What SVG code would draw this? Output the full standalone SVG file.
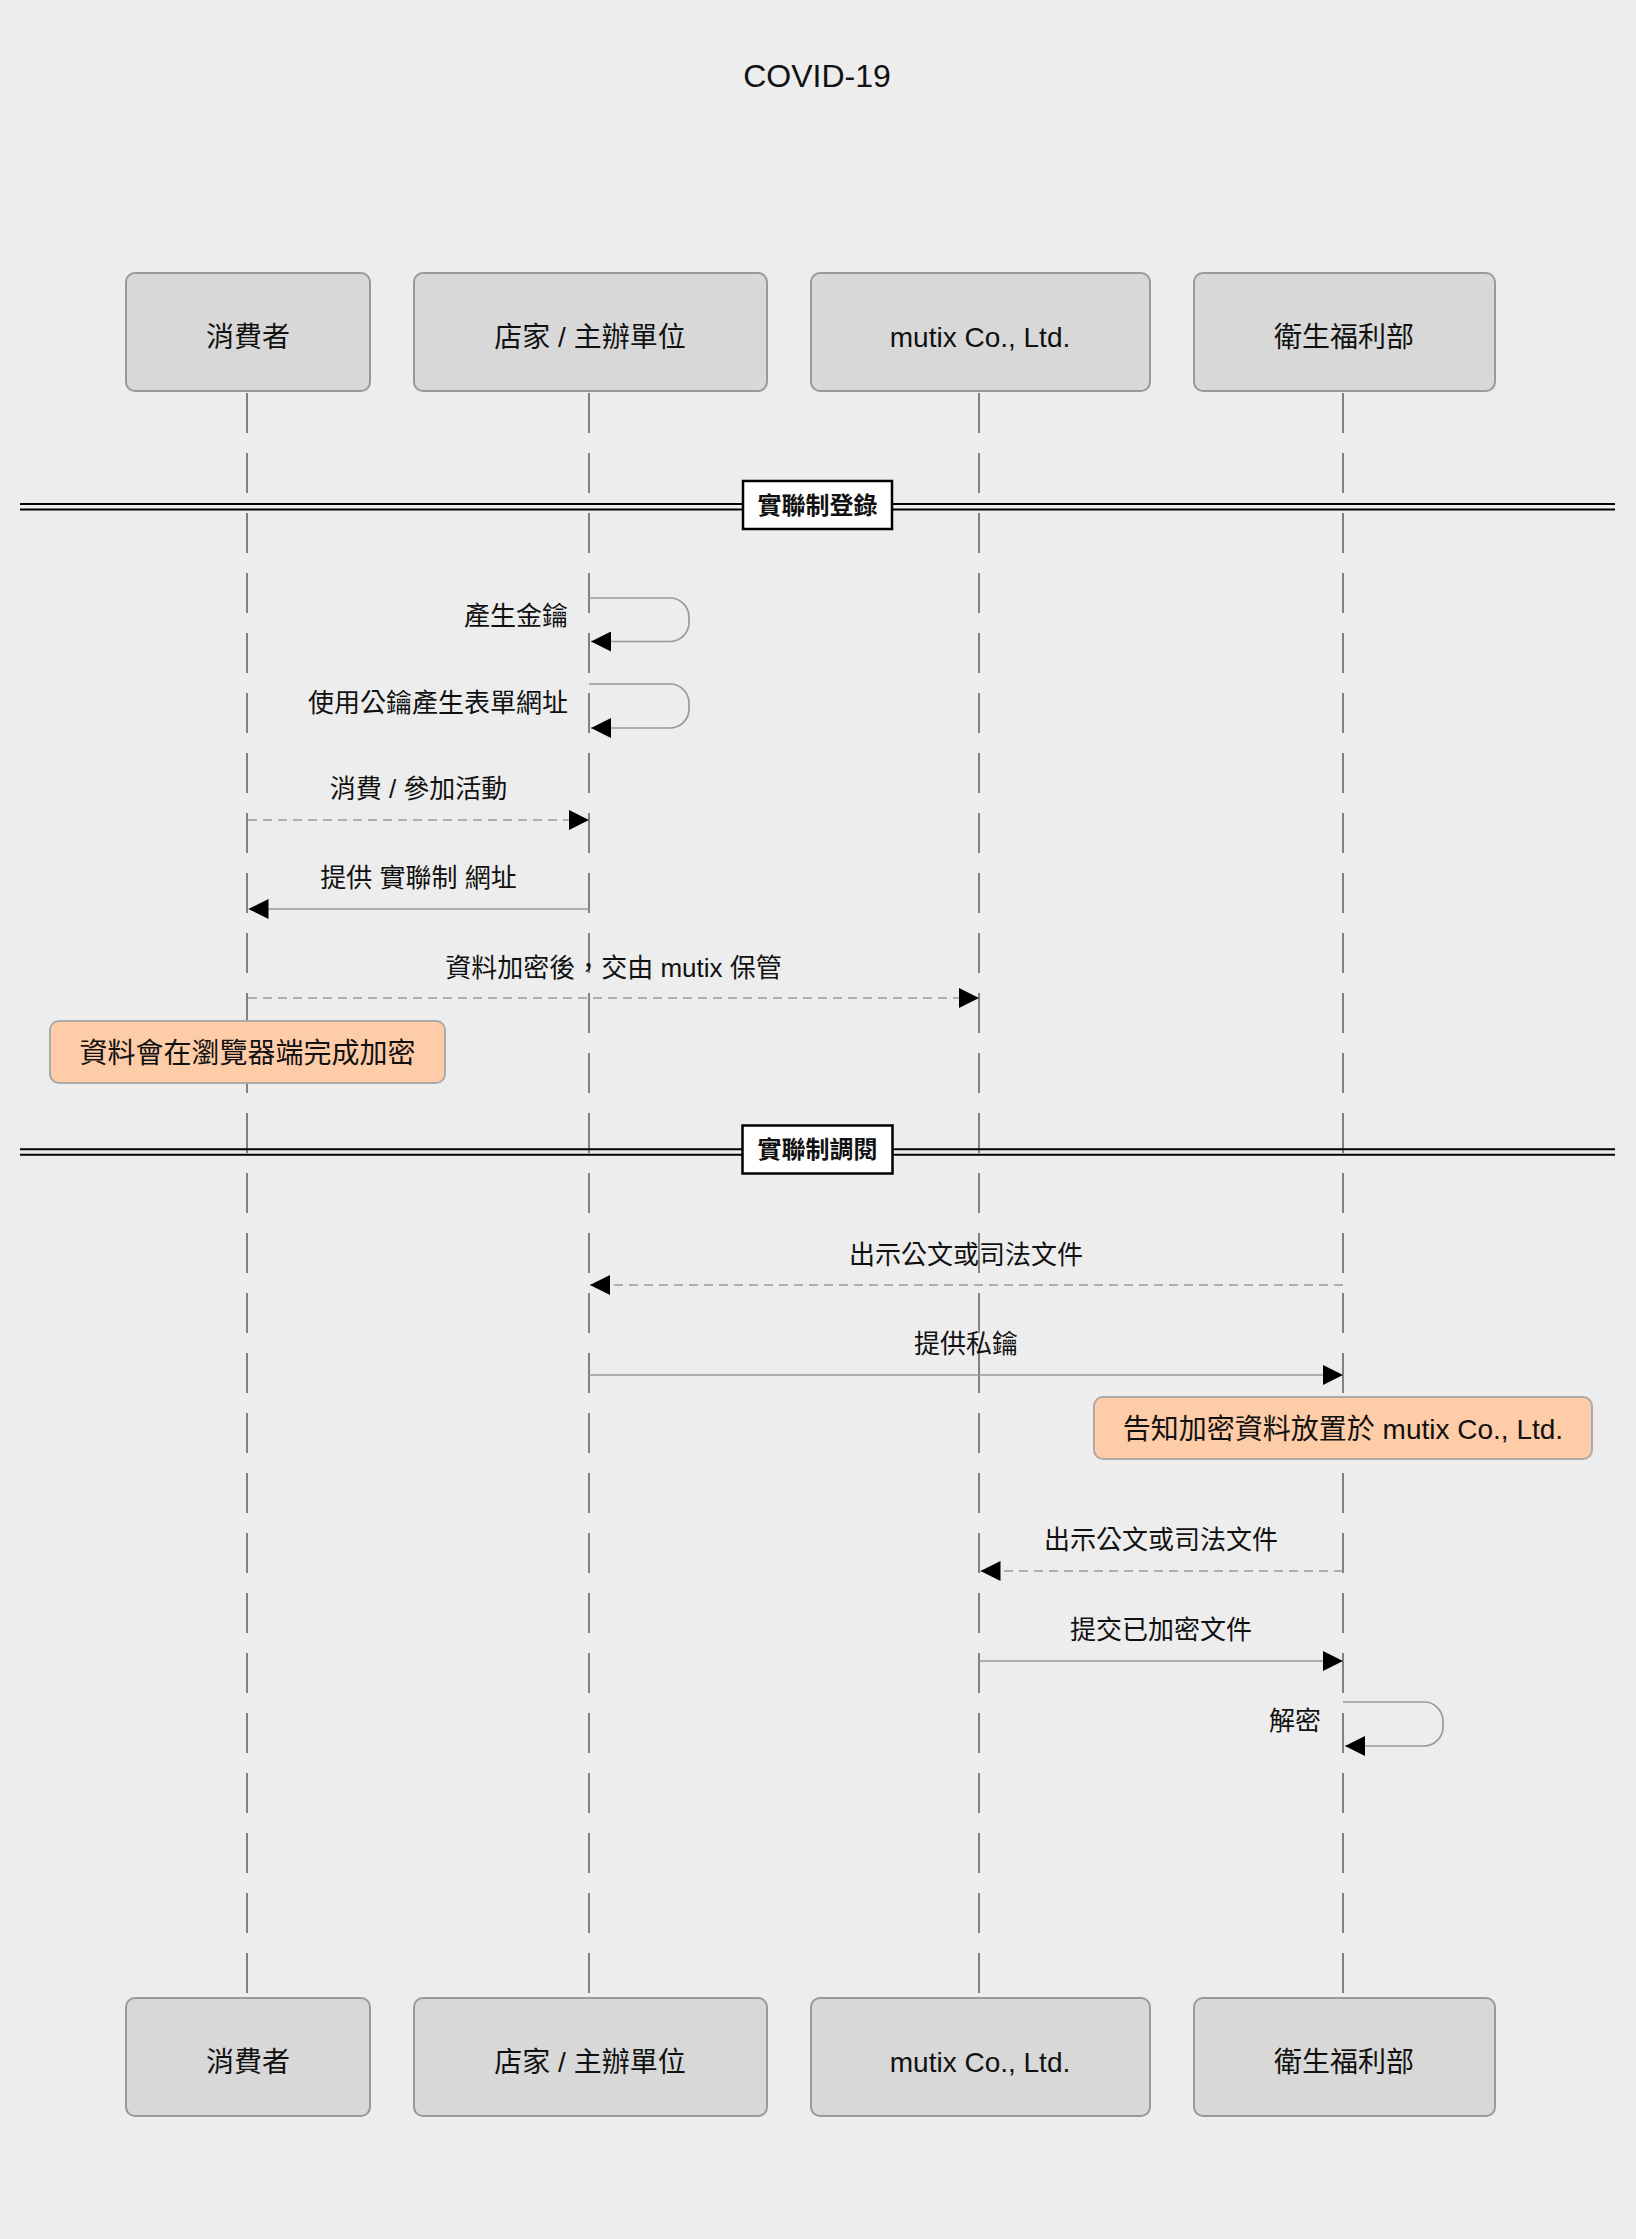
<svg xmlns="http://www.w3.org/2000/svg" width="1636" height="2239" viewBox="0 0 1636 2239">
<style>
text{font-family:"Liberation Sans","Noto Sans CJK TC",sans-serif;fill:#111;}
.actor rect{fill:#d8d8d8;stroke:#999;stroke-width:2;}
.actor text{font-size:28px;text-anchor:middle;dominant-baseline:central;}
.life{stroke:#666;stroke-width:1.6;stroke-dasharray:40 20;fill:none;}
.msg{stroke:#999;stroke-width:1.7;fill:none;}
.dash{stroke-dasharray:9 6;}
.lbl{font-size:26px;text-anchor:middle;dominant-baseline:central;}
.lblr{font-size:26px;text-anchor:end;dominant-baseline:central;}
.note rect{fill:#ffcca8;stroke:#aaa;stroke-width:2;}
.note text{font-size:28px;text-anchor:middle;dominant-baseline:central;}
.sec line{stroke:#000;stroke-width:2;}
.sec rect{fill:#fff;stroke:#000;stroke-width:2.5;}
.sec text{font-size:24px;font-weight:bold;text-anchor:middle;dominant-baseline:central;}
</style>
<defs>
<marker id="ah" markerUnits="userSpaceOnUse" markerWidth="20" markerHeight="20" viewBox="0 0 19 19" refX="19" refY="9.5" orient="auto">
<path d="M0,0 L19,9.5 L0,19 z" fill="#000"/>
</marker>
</defs>
<rect x="0" y="0" width="1636" height="2239" fill="#ededed"/>
<text x="817" y="76" font-size="32" text-anchor="middle" dominant-baseline="central">COVID-19</text>

<g id="lifelines">
<line class="life" x1="247" y1="393" x2="247" y2="1995"/>
<line class="life" x1="589" y1="393" x2="589" y2="1995"/>
<line class="life" x1="979" y1="393" x2="979" y2="1995"/>
<line class="life" x1="1343" y1="393" x2="1343" y2="1995"/>
</g>

<g id="actor-consumer-top" class="actor"><rect x="126" y="273" width="244" height="118" rx="9"/><text x="248" y="337">消費者</text></g>
<g id="actor-store-top" class="actor"><rect x="414" y="273" width="353" height="118" rx="9"/><text x="590" y="337">店家 / 主辦單位</text></g>
<g id="actor-mutix-top" class="actor"><rect x="811" y="273" width="339" height="118" rx="9"/><text x="980" y="337">mutix Co., Ltd.</text></g>
<g id="actor-mohw-top" class="actor"><rect x="1194" y="273" width="301" height="118" rx="9"/><text x="1344" y="337">衛生福利部</text></g>

<g id="actor-consumer-bottom" class="actor"><rect x="126" y="1998" width="244" height="118" rx="9"/><text x="248" y="2062">消費者</text></g>
<g id="actor-store-bottom" class="actor"><rect x="414" y="1998" width="353" height="118" rx="9"/><text x="590" y="2062">店家 / 主辦單位</text></g>
<g id="actor-mutix-bottom" class="actor"><rect x="811" y="1998" width="339" height="118" rx="9"/><text x="980" y="2062">mutix Co., Ltd.</text></g>
<g id="actor-mohw-bottom" class="actor"><rect x="1194" y="1998" width="301" height="118" rx="9"/><text x="1344" y="2062">衛生福利部</text></g>

<g id="section-register" class="sec">
<line x1="20" y1="504" x2="1615" y2="504"/>
<line x1="20" y1="509.5" x2="1615" y2="509.5"/>
<rect x="743" y="481" width="149" height="48"/>
<text x="817.5" y="505">實聯制登錄</text>
</g>

<g id="section-query" class="sec">
<line x1="20" y1="1149.3" x2="1615" y2="1149.3"/>
<line x1="20" y1="1154.7" x2="1615" y2="1154.7"/>
<rect x="742.5" y="1125.5" width="150" height="48"/>
<text x="817.5" y="1149.5">實聯制調閱</text>
</g>

<g id="connectors">
<path class="msg" d="M589,598 H670 A19,19 0 0 1 689,617 V622.5 A19,19 0 0 1 670,641.5 H591" marker-end="url(#ah)"/>
<path class="msg" d="M589,684 H670 A19,19 0 0 1 689,703 V709 A19,19 0 0 1 670,728 H591" marker-end="url(#ah)"/>
<line class="msg dash" x1="248" y1="820" x2="589" y2="820" marker-end="url(#ah)"/>
<line class="msg" x1="589" y1="909" x2="248.5" y2="909" marker-end="url(#ah)"/>
<line class="msg dash" x1="248" y1="998" x2="979" y2="998" marker-end="url(#ah)"/>
<line class="msg dash" x1="1343" y1="1285" x2="590" y2="1285" marker-end="url(#ah)"/>
<line class="msg" x1="589" y1="1375" x2="1343" y2="1375" marker-end="url(#ah)"/>
<line class="msg dash" x1="1343" y1="1571" x2="980.5" y2="1571" marker-end="url(#ah)"/>
<line class="msg" x1="979" y1="1661" x2="1343" y2="1661" marker-end="url(#ah)"/>
<path class="msg" d="M1343,1702 H1424 A19,19 0 0 1 1443,1721 V1727 A19,19 0 0 1 1424,1746 H1345" marker-end="url(#ah)"/>
</g>

<g id="labels">
<text class="lblr" x="568" y="616">產生金鑰</text>
<text class="lblr" x="568" y="703">使用公鑰產生表單網址</text>
<text class="lbl" x="418.5" y="789">消費 / 參加活動</text>
<text class="lbl" x="418.5" y="878">提供 實聯制 網址</text>
<text class="lbl" x="613.5" y="968">資料加密後，交由 mutix 保管</text>
<text class="lbl" x="966" y="1255">出示公文或司法文件</text>
<text class="lbl" x="966" y="1344">提供私鑰</text>
<text class="lbl" x="1161" y="1540">出示公文或司法文件</text>
<text class="lbl" x="1161" y="1630">提交已加密文件</text>
<text class="lblr" x="1321" y="1721">解密</text>
</g>

<g id="note-browser" class="note"><rect x="50" y="1021" width="395" height="62" rx="9"/><text x="247.5" y="1053">資料會在瀏覽器端完成加密</text></g>
<g id="note-mutix" class="note"><rect x="1094" y="1397" width="498" height="62" rx="9"/><text x="1343" y="1429">告知加密資料放置於 mutix Co., Ltd.</text></g>
</svg>
